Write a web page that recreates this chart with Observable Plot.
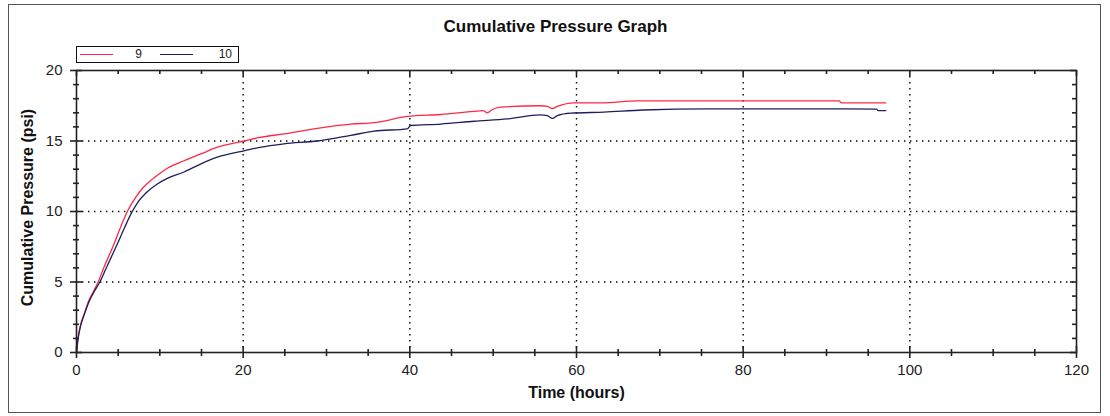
<!DOCTYPE html>
<html>
<head>
<meta charset="utf-8">
<script src="https://cdn.jsdelivr.net/npm/d3@7"></script>
<script src="https://cdn.jsdelivr.net/npm/@observablehq/plot@0.6"></script>
<style>
html, body { margin: 0; padding: 0; background: #fff; }
#wrap { position: relative; width: 1110px; height: 416px; font-family: "Liberation Sans", Arial, sans-serif; }
#border { position: absolute; left: 8px; top: 4px; width: 1091px; height: 407px; border: 1.5px solid #555; pointer-events: none; }
#legend { position: absolute; left: 76px; top: 46px; width: 161px; height: 15px; border: 1px solid #111; background: #fff; font-size: 12px; color: #222; }
#legend .item { position: absolute; top: 0; height: 15px; width: 80px; }
#legend .sw { position: absolute; left: 3px; top: 7px; width: 33px; height: 0; border-top: 1.3px solid; }
#legend .lbl { position: absolute; top: 0px; line-height: 15px; }
</style>
</head>
<body>
<div id="wrap">
  <div id="chart"></div>
  <div id="legend"></div>
  <div id="border"></div>
</div>
<script>
// ---- Data ----
const title = "Cumulative Pressure Graph";
const xLabel = "Time (hours)";
const yLabel = "Cumulative Pressure (psi)";
const seriesNames = ["9", "10"];
const seriesColors = ["#ff2848", "#1e1e5e"];

const time9 = [0, 0.1, 0.25, 0.5, 0.9, 1.5, 2.1, 2.6, 3.3, 4.0, 4.5, 5.3, 6.1, 7.1, 8.0, 8.9, 10.0, 11.0, 12.9, 15.0, 16.9, 18.5, 20.1, 22.0, 24.9, 28.9, 32.9, 35.7, 39.7, 43.7, 47.7, 48.8, 49.3, 49.8, 50.9, 55.7, 56.5, 57.1, 57.7, 59.7, 63.0, 67.3, 85.3, 91.5, 91.8, 97.1];
const psi9  = [0, 0.7, 1.3, 2.0, 2.7, 3.7, 4.4, 5.0, 6.05, 7.0, 7.7, 8.9, 10.0, 11.0, 11.7, 12.2, 12.7, 13.1, 13.6, 14.1, 14.56, 14.8, 15.0, 15.25, 15.5, 15.9, 16.2, 16.3, 16.74, 16.88, 17.1, 17.15, 17.0, 17.2, 17.4, 17.5, 17.45, 17.3, 17.45, 17.7, 17.7, 17.85, 17.85, 17.85, 17.7, 17.7];

const time10 = [0, 0.2, 0.5, 1.0, 1.5, 2.1, 2.8, 3.5, 4.2, 4.9, 5.8, 6.6, 7.3, 8.5, 9.7, 10.9, 12.9, 15.0, 16.9, 18.5, 20.1, 22.0, 24.9, 28.9, 32.9, 35.7, 39.7, 40.1, 43.7, 47.7, 51.7, 55.7, 56.5, 57.1, 57.7, 59.3, 63.3, 68.0, 75.7, 85.3, 96.0, 96.2, 97.1];
const psi10  = [0, 1.0, 1.9, 2.8, 3.6, 4.3, 5.0, 5.9, 6.8, 7.7, 8.9, 9.9, 10.6, 11.4, 11.95, 12.35, 12.8, 13.4, 13.85, 14.1, 14.3, 14.55, 14.8, 15.0, 15.4, 15.7, 15.86, 16.1, 16.2, 16.4, 16.57, 16.85, 16.8, 16.6, 16.8, 16.97, 17.05, 17.2, 17.28, 17.28, 17.26, 17.16, 17.16];

const xMajor = [0, 20, 40, 60, 80, 100, 120];
const xMinor = [5, 10, 15, 25, 30, 35, 45, 50, 55, 65, 70, 75, 85, 90, 95, 105, 110, 115];
const yMajor = [0, 5, 10, 15, 20];
const yMinor = [1, 2, 3, 4, 6, 7, 8, 9, 11, 12, 13, 14, 16, 17, 18, 19];

// ---- Build table ----
const rows = [
  ...time9.map((t, i) => ({t, v: psi9[i], s: seriesNames[0]})),
  ...time10.map((t, i) => ({t, v: psi10[i], s: seriesNames[1]}))
];

const W = 1110, H = 416, mT = 70, mL = 76, mR = 34, mB = 64;
const fw = W - mL - mR, fh = H - mT - mB;
const tickColor = "#222";

const chart = Plot.plot({
  width: W, height: H,
  marginTop: mT, marginLeft: mL, marginRight: mR, marginBottom: mB,
  style: {fontFamily: "'Liberation Sans', Arial, sans-serif", background: "transparent", color: "#222"},
  x: {domain: [0, 120], axis: null},
  y: {domain: [0, 20], axis: null},
  color: {domain: seriesNames, range: seriesColors},
  marks: [
    Plot.gridX(xMajor.filter(d => d > 0 && d < 120), {stroke: "#000", strokeOpacity: 1, strokeWidth: 1.4, strokeDasharray: "1.4,4.6"}),
    Plot.gridY(yMajor.filter(d => d > 0 && d < 20), {stroke: "#000", strokeOpacity: 1, strokeWidth: 1.4, strokeDasharray: "1.4,4.6"}),
    Plot.line(rows, {x: "t", y: "v", z: "s", stroke: "s", strokeWidth: 1.3, curve: "monotone-x"}),
    Plot.frame({stroke: "#222", strokeWidth: 1.6}),
    // bottom ticks (crossing)
    Plot.ruleX(xMajor, {x: d => d, insetTop: fh - 6, insetBottom: -6, stroke: tickColor, strokeWidth: 1.6}),
    Plot.ruleX(xMinor, {x: d => d, insetTop: fh - 3, insetBottom: -4, stroke: tickColor, strokeWidth: 1.6}),
    // top ticks (inward)
    Plot.ruleX(xMajor, {x: d => d, insetBottom: fh - 6, stroke: tickColor, strokeWidth: 1.6}),
    Plot.ruleX(xMinor, {x: d => d, insetBottom: fh - 4, stroke: tickColor, strokeWidth: 1.6}),
    // left ticks (crossing)
    Plot.ruleY(yMajor, {y: d => d, insetLeft: -6, insetRight: fw - 6, stroke: tickColor, strokeWidth: 1.6}),
    Plot.ruleY(yMinor, {y: d => d, insetLeft: -3, insetRight: fw - 3, stroke: tickColor, strokeWidth: 1.6}),
    // right ticks (inward)
    Plot.ruleY(yMajor, {y: d => d, insetLeft: fw - 6, stroke: tickColor, strokeWidth: 1.6}),
    Plot.ruleY(yMinor, {y: d => d, insetLeft: fw - 4, stroke: tickColor, strokeWidth: 1.6}),
    // tick labels
    Plot.text(xMajor, {x: d => d, frameAnchor: "bottom", dy: 22, text: d => String(d), fontSize: 15, fill: "#222"}),
    Plot.text(yMajor, {y: d => d, frameAnchor: "left", dx: -14, textAnchor: "end", text: d => String(d), fontSize: 15, fill: "#222"}),
    // axis labels & title
    Plot.text([xLabel], {frameAnchor: "bottom", dy: 45, text: d => d, fontSize: 16, fontWeight: "bold", fill: "#111"}),
    Plot.text([yLabel], {frameAnchor: "left", dx: -49, dy: -4, rotate: -90, textAnchor: "middle", text: d => d, fontSize: 16, fontWeight: "bold", fill: "#111"}),
    Plot.text([title], {frameAnchor: "top", dx: -21, dy: -51, text: d => d, fontSize: 17, fontWeight: "bold", fill: "#111"})
  ]
});
document.getElementById("chart").appendChild(chart);

// ---- Legend ----
const legend = document.getElementById("legend");
seriesNames.forEach((name, i) => {
  const item = document.createElement("div");
  item.className = "item";
  item.style.left = (i * 80) + "px";
  const sw = document.createElement("div");
  sw.className = "sw";
  sw.style.borderTopColor = seriesColors[i];
  const lbl = document.createElement("div");
  lbl.className = "lbl";
  lbl.style.right = (i === 0 ? 15 : 5) + "px";
  lbl.textContent = name;
  item.appendChild(sw);
  item.appendChild(lbl);
  legend.appendChild(item);
});
</script>
</body>
</html>
